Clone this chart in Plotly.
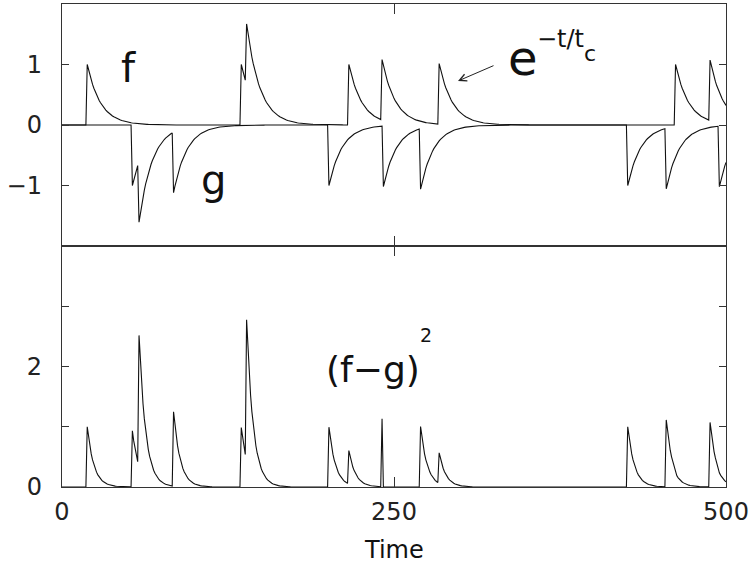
import numpy as np
import plotly.graph_objects as go

# ---- data ----
tc = 10.0                       # decay constant of e^{-t/tc}
f_times = [19, 135, 139, 216, 241, 284, 462, 488]
f_amps = [1.0, 1.0, 1.0, 1.0, 1.0, 1.0, 1.0, 1.0]
g_times = [53, 58, 84, 201, 242, 270, 426, 455, 495]
g_amps = [1.0, 1.0, 1.0, 1.0, 1.0, 1.0, 1.0, 1.0, 1.0]
t_start, t_end, t_step = 0, 500, 1
x_ticks = [0, 250, 500]
top_ticks = [-1, 0, 1]
bottom_ticks = [0, 1, 2, 3]
bottom_ticktext = ["0", "", "2", ""]

t = np.arange(t_start, t_end + t_step, t_step, dtype=float)


def spike_train(times, amps):
    y = np.zeros_like(t)
    for ti, a in zip(times, amps):
        m = t >= ti
        y[m] += a * np.exp(-(t[m] - ti) / tc)
    return y


f = spike_train(f_times, f_amps)
g = spike_train(g_times, g_amps)
d2 = (f - g) ** 2

LINE = dict(color="#111111", width=1.1)
FRAME = "#333333"
FONT = "DejaVu Sans"

fig = go.Figure()
fig.add_trace(go.Scatter(x=t, y=f, mode="lines", line=LINE, xaxis="x2", yaxis="y2"))
fig.add_trace(go.Scatter(x=t, y=-g, mode="lines", line=LINE, xaxis="x2", yaxis="y2"))
fig.add_trace(go.Scatter(x=t, y=d2, mode="lines", line=LINE, xaxis="x", yaxis="y"))

W, H = 751, 567
L, R, T, B = 62, 25, 4, 80
PW, PH = W - L - R, H - T - B


def px(xp):
    return (xp - L) / PW


def py(yp):
    return (H - B - yp) / PH


split = py(246)

common_x = dict(range=[0, 500], tickvals=x_ticks, ticks="inside", ticklen=10,
                tickcolor=FRAME, showline=True, linecolor=FRAME, linewidth=1.4,
                mirror="ticks", showgrid=False, zeroline=False)
common_y = dict(ticks="inside", ticklen=7, tickcolor=FRAME, showline=True,
                linecolor=FRAME, linewidth=1.4, mirror="ticks", showgrid=False,
                zeroline=False)

fig.update_layout(
    width=W, height=H,
    margin=dict(l=L, r=R, t=T, b=B, autoexpand=False),
    paper_bgcolor="white", plot_bgcolor="white",
    showlegend=False,
    font=dict(family=FONT, size=24, color="#222222"),
    xaxis=dict(domain=[0, 1], anchor="y", ticklabelstandoff=3, **common_x),
    yaxis=dict(domain=[0, split], range=[0, 4], tickvals=bottom_ticks,
               ticktext=bottom_ticktext, ticklabelstandoff=14, **common_y),
    xaxis2=dict(domain=[0, 1], anchor="y2", matches="x", showticklabels=False, **common_x),
    yaxis2=dict(domain=[split, 1], range=[-2, 2], tickvals=top_ticks,
                ticklabelstandoff=14, **common_y),
)

ann = [
    dict(text="f", x=px(128), y=py(68), size=40),
    dict(text="g", x=px(213), y=py(180), size=40),
    dict(text="e", x=px(523), y=py(58), size=48),
    dict(text="\u2212t/t", x=px(560), y=py(39), size=24),
    dict(text="c", x=px(590), y=py(53), size=22),
    dict(text="(f\u2212g)", x=px(373), y=py(369), size=36),
    dict(text="2", x=px(426), y=py(335), size=19),
    dict(text="Time", x=0.5, y=py(550), size=24),
]
for a in ann:
    fig.add_annotation(text=a["text"], x=a["x"], y=a["y"], xref="paper", yref="paper",
                       xanchor="center", yanchor="middle", showarrow=False,
                       font=dict(family=FONT, size=a["size"], color="#111111"))

fig.add_annotation(text="", x=px(458), y=py(81), xref="paper", yref="paper",
                   showarrow=True, ax=37, ay=-16, arrowhead=5, arrowsize=1.4,
                   arrowwidth=1, arrowcolor="#222222", standoff=0)

fig.write_html("out.html",
               config={"displayModeBar": False},
               post_script="document.body.style.margin='0px';"
                           "document.body.style.overflow='hidden';")
